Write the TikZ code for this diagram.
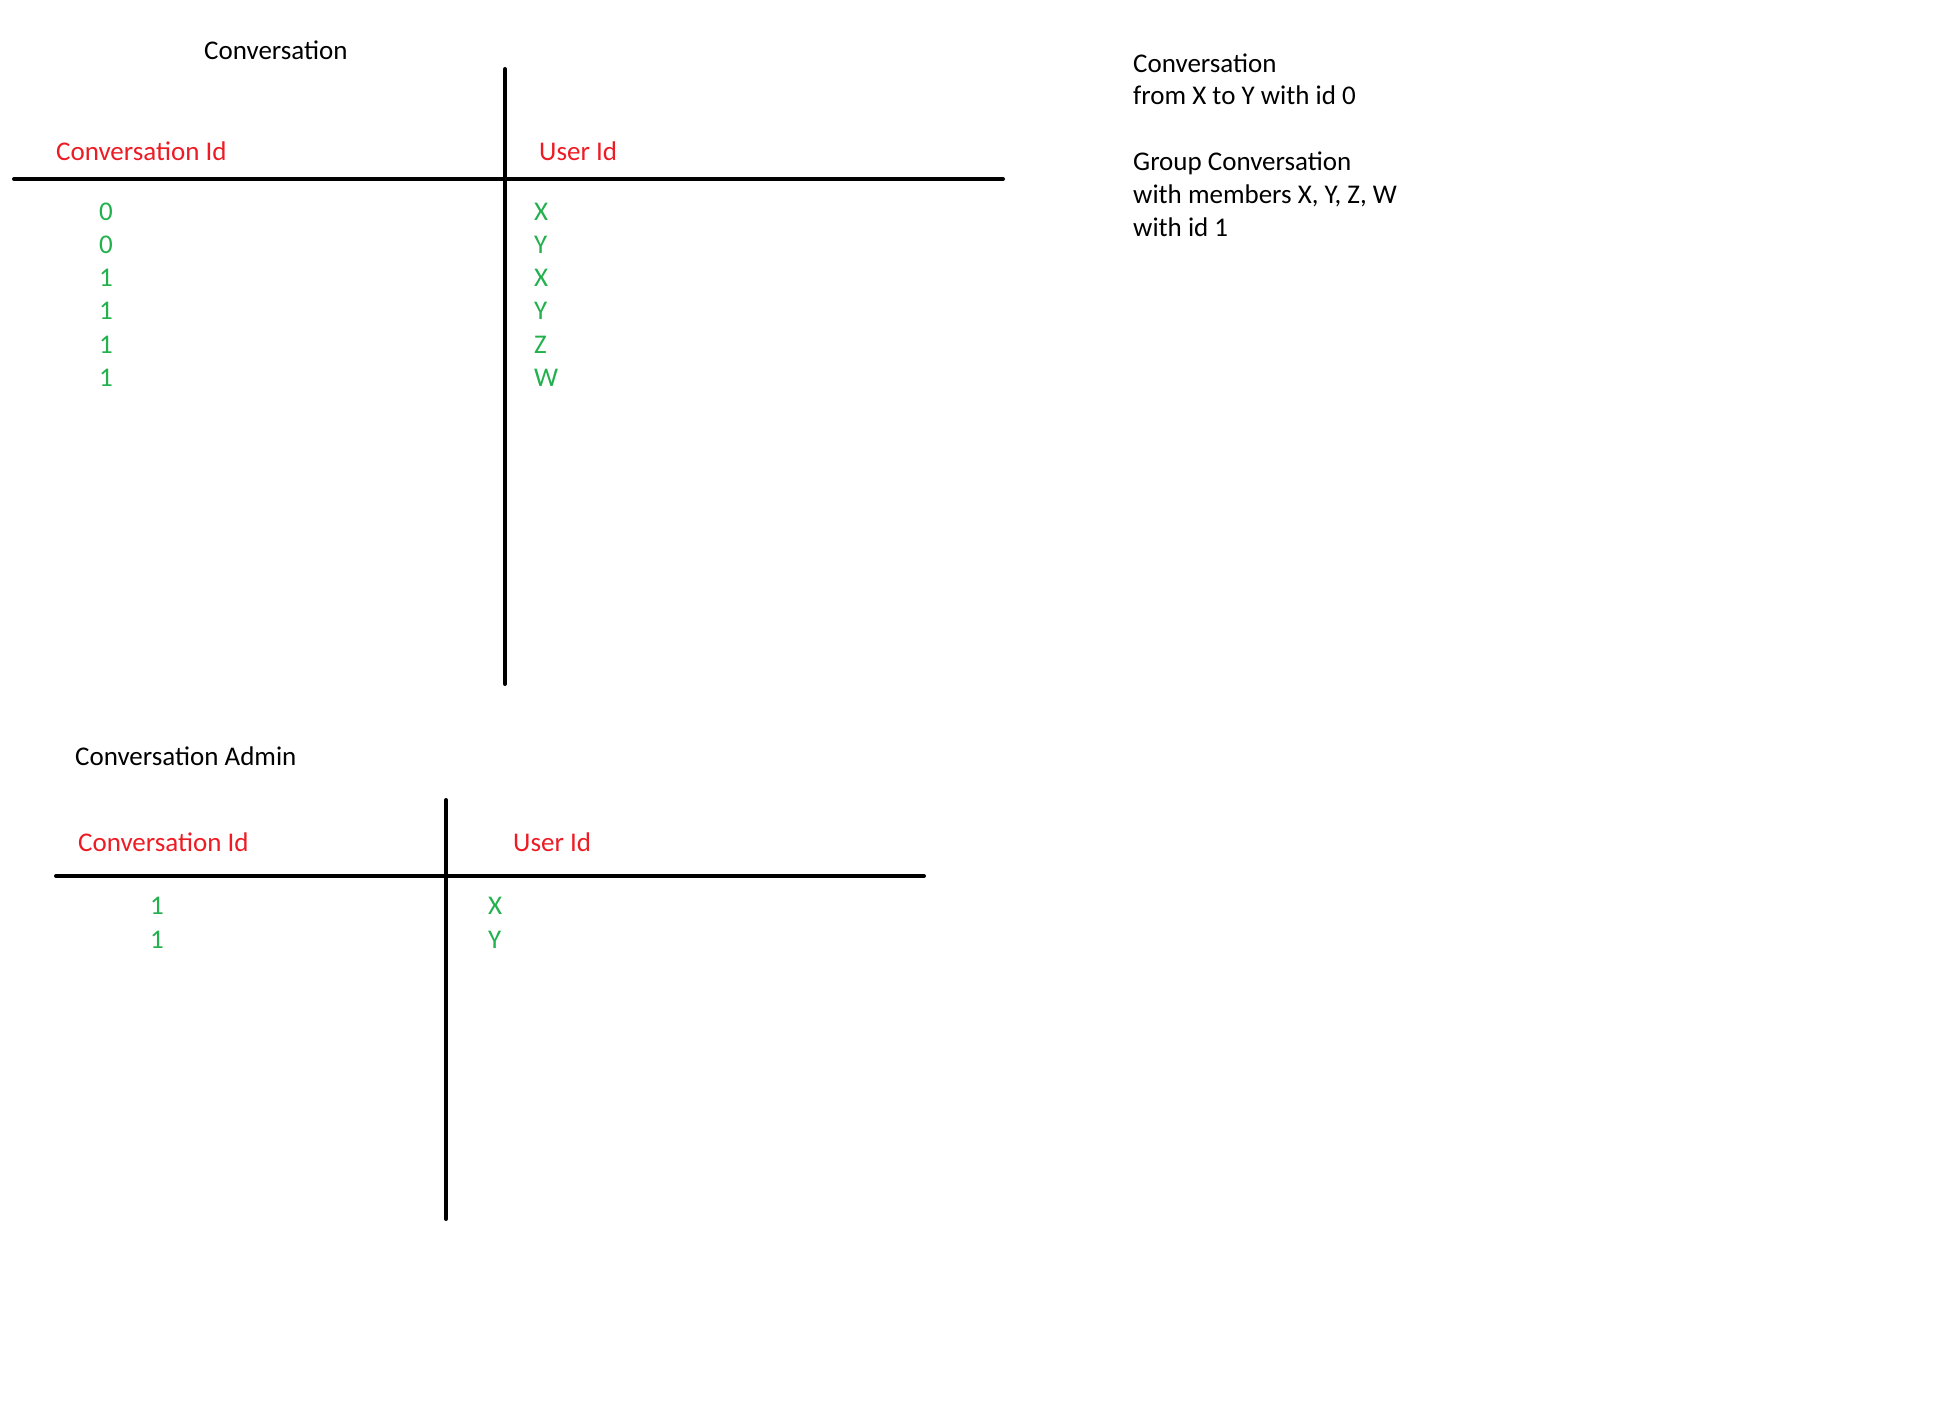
\documentclass[tikz,border=0pt]{standalone}
\usepackage{fontspec}
\setmainfont{Carlito}
\definecolor{pred}{HTML}{ED1C24}
\definecolor{pgreen}{HTML}{22B14C}
\begin{document}
\begin{tikzpicture}[x=1pt,y=-1pt,
  txt/.style={inner sep=0pt,anchor=base west,font=\fontsize{27}{33}\selectfont},
  hdr/.style={txt,text=pred},
  val/.style={txt,text=pgreen},
  num/.style={inner sep=0pt,anchor=base,font=\fontsize{27}{33}\selectfont,text=pgreen},
  rule/.style={line width=4pt,line cap=round}]
\useasboundingbox[fill=white] (0,0) rectangle (1948,1424);
% Table 1
\coordinate (v1t) at (505,69);
\coordinate (v1b) at (505,684);
\coordinate (h1l) at (14,179);
\coordinate (h1r) at (1003,179);
\draw[rule] (v1t) -- (v1b);
\draw[rule] (h1l) -- (h1r);
\node[txt] (t1) at (204,59) {Conversation};
\node[hdr] (c1) at (56,160) {Conversation Id};
\node[hdr] (u1) at (539,160) {User Id};
\node[num] (n1) at (106,220) {0};
\node[num] (n2) at (106,253) {0};
\node[num] (n3) at (106,286) {1};
\node[num] (n4) at (106,319) {1};
\node[num] (n5) at (106,353) {1};
\node[num] (n6) at (106,386) {1};
\node[val] (l1) at (534,220) {X};
\node[val] (l2) at (534,253) {Y};
\node[val] (l3) at (534,286) {X};
\node[val] (l4) at (534,319) {Y};
\node[val] (l5) at (534,353) {Z};
\node[val] (l6) at (534,386) {W};
% Table 2
\coordinate (v2t) at (446,800);
\coordinate (v2b) at (446,1219);
\coordinate (h2l) at (56,876);
\coordinate (h2r) at (924,876);
\draw[rule] (v2t) -- (v2b);
\draw[rule] (h2l) -- (h2r);
\node[txt] (t2) at (75,765) {Conversation Admin};
\node[hdr] (c2) at (78,851) {Conversation Id};
\node[hdr] (u2) at (513,851) {User Id};
\node[num] (m1) at (157,914) {1};
\node[num] (m2) at (157,948) {1};
\node[val] (k1) at (488,914) {X};
\node[val] (k2) at (488,948) {Y};
% Notes
\node[txt] (a1) at (1133,72) {Conversation};
\node[txt] (a2) at (1133,104) {from X to Y with id 0};
\node[txt] (a3) at (1133,170) {Group Conversation};
\node[txt] (a4) at (1133,203) {with members X, Y, Z, W};
\node[txt] (a5) at (1133,236) {with id 1};
\end{tikzpicture}
\end{document}
